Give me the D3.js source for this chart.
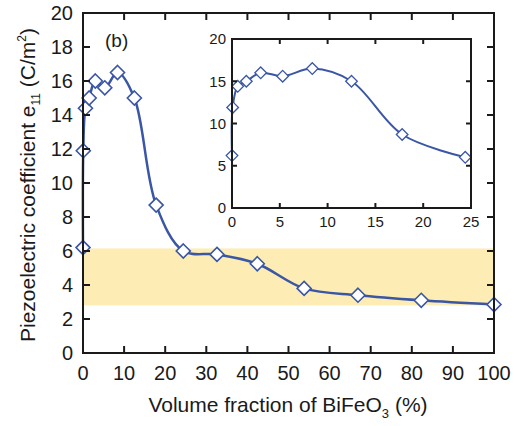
<!DOCTYPE html>
<html><head><meta charset="utf-8">
<script src="https://cdn.jsdelivr.net/npm/d3@7"></script>
<style>body{margin:0;background:#fff}svg{display:block;font-family:"Liberation Sans",Arial,sans-serif}</style>
</head><body><svg id="c" width="514" height="426"></svg>
<script>
const fractions = [0, 0.07, 0.6, 1.5, 3.0, 5.3, 8.4, 12.5, 17.8, 24.4, 32.6, 42.4, 53.8, 66.9, 82.3, 100];
const e11 = [6.2, 11.9, 14.4, 15.0, 16.0, 15.6, 16.5, 15.0, 8.7, 6.0, 5.8, 5.25, 3.8, 3.4, 3.1, 2.85];
const bandRange = [2.8, 6.15];
const xTicks = [0,10,20,30,40,50,60,70,80,90,100];
const yTicks = [0,2,4,6,8,10,12,14,16,18,20];
const insetXTicks = [0,5,10,15,20,25];
const insetYTicks = [0,5,10,15,20];
const insetMax = 25;

const svg = d3.select("#c");
const blue = "#3a56a5", ink = "#1a1a1a";
const x = d3.scaleLinear().domain([0,100]).range([83,494]);
const y = d3.scaleLinear().domain([0,20]).range([353,13]);
const data = fractions.map((f,i)=>({x:f,y:e11[i]}));

// band
svg.append("rect").attr("x",x(0)).attr("width",x(100)-x(0))
  .attr("y",y(bandRange[1])).attr("height",y(bandRange[0])-y(bandRange[1]))
  .attr("fill","#fdecb4");

function frame(g, xs, ys, xt, yt, tl, fs, xOff, yOff){
  const [x0,x1]=xs.range(), [y0,y1]=ys.range();
  g.append("rect").attr("x",x0).attr("y",y1).attr("width",x1-x0).attr("height",y0-y1)
    .attr("fill","none").attr("stroke",ink).attr("stroke-width",2);
  xt.forEach(t=>{
    g.append("line").attr("x1",xs(t)).attr("x2",xs(t)).attr("y1",y0).attr("y2",y0-tl).attr("stroke",ink).attr("stroke-width",2);
    g.append("line").attr("x1",xs(t)).attr("x2",xs(t)).attr("y1",y1).attr("y2",y1+tl).attr("stroke",ink).attr("stroke-width",2);
    g.append("text").attr("x",xs(t)).attr("y",y0+xOff+fs*0.72).attr("text-anchor","middle").attr("font-size",fs).attr("fill",ink).text(t);
  });
  yt.forEach(t=>{
    g.append("line").attr("y1",ys(t)).attr("y2",ys(t)).attr("x1",x0).attr("x2",x0+tl).attr("stroke",ink).attr("stroke-width",2);
    g.append("line").attr("y1",ys(t)).attr("y2",ys(t)).attr("x1",x1).attr("x2",x1-tl).attr("stroke",ink).attr("stroke-width",2);
    g.append("text").attr("x",x0-yOff).attr("y",ys(t)+fs*0.36).attr("text-anchor","end").attr("font-size",fs).attr("fill",ink).text(t);
  });
}

const line = d3.line().x(d=>x(d.x)).y(d=>y(d.y)).curve(d3.curveCatmullRom.alpha(0.5));
svg.append("path").attr("d",line(data)).attr("fill","none").attr("stroke",blue).attr("stroke-width",2.5);
const diamond = (s)=>`M0,${-s}L${s},0L0,${s}L${-s},0Z`;
svg.selectAll(".m").data(data).enter().append("path").attr("class","m")
  .attr("transform",d=>`translate(${x(d.x)},${y(d.y)})`).attr("d",diamond(7))
  .attr("fill","#fff").attr("stroke",blue).attr("stroke-width",1.6);

frame(svg.append("g"), x, y, xTicks, yTicks, 7, 20, 13, 10);

// inset
const ix = d3.scaleLinear().domain([0,insetMax]).range([232,471]);
const iy = d3.scaleLinear().domain([0,20]).range([208,39]);
const ig = svg.append("g");
ig.append("rect").attr("x",232).attr("y",39).attr("width",239).attr("height",169).attr("fill","#fff");
const idata = data.filter(d=>d.x<=insetMax);
const iline = d3.line().x(d=>ix(d.x)).y(d=>iy(d.y)).curve(d3.curveCatmullRom.alpha(0.5));
ig.append("path").attr("d",iline(idata)).attr("fill","none").attr("stroke",blue).attr("stroke-width",2);
ig.selectAll(".im").data(idata).enter().append("path")
  .attr("transform",d=>`translate(${ix(d.x)},${iy(d.y)})`).attr("d",diamond(5.8))
  .attr("fill","#fff").attr("stroke",blue).attr("stroke-width",1.3);
frame(ig, ix, iy, insetXTicks, insetYTicks, 5, 15, 8, 6);

// labels
svg.append("text").attr("x",105).attr("y",47).attr("font-size",19).attr("fill",ink).text("(b)");
const xl = svg.append("text").attr("x",288).attr("y",412).attr("text-anchor","middle").attr("font-size",21).attr("fill",ink);
xl.append("tspan").text("Volume fraction of BiFeO");
xl.append("tspan").attr("font-size",13).attr("dy",6).text("3");
xl.append("tspan").attr("dy",-6).text(" (%)");
const yl = svg.append("text").attr("transform","translate(35,185) rotate(-90)").attr("text-anchor","middle").attr("font-size",21).attr("fill",ink);
yl.append("tspan").text("Piezoelectric coefficient e");
yl.append("tspan").attr("font-size",12).attr("dy",5).text("11");
yl.append("tspan").attr("dy",-5).text(" (C/m");
yl.append("tspan").attr("font-size",12).attr("dy",-9).text("2");
yl.append("tspan").attr("dy",9).text(")");
</script></body></html>
